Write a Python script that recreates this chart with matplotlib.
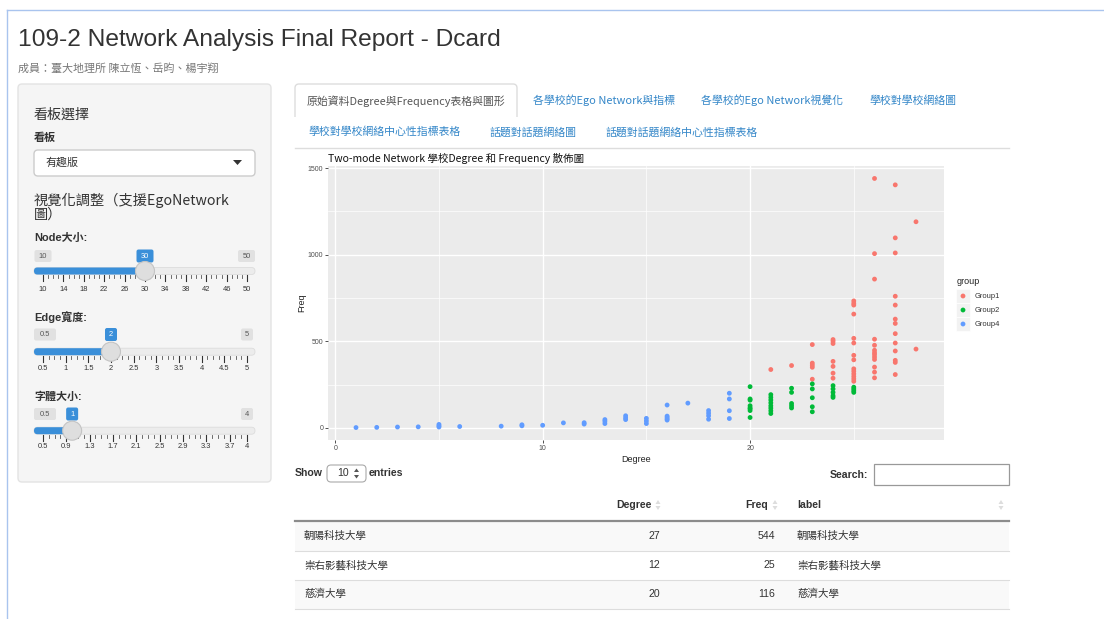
import matplotlib
matplotlib.use("Agg")
import matplotlib.pyplot as plt
from matplotlib.patches import FancyBboxPatch, Rectangle, Circle, Polygon
from matplotlib.ticker import MultipleLocator
import numpy as np

# ---------------- data ----------------
page_title = "109-2 Network Analysis Final Report - Dcard"
page_subtitle = "成員：臺大地理所 陳立恆、岳昀、楊宇翔"

tabs_row1 = ["原始資料Degree與Frequency表格與圖形", "各學校的Ego Network與指標",
             "各學校的Ego Network視覺化", "學校對學校網絡圖"]
tabs_row2 = ["學校對學校網絡中心性指標表格", "話題對話題網絡圖", "話題對話題網絡中心性指標表格"]

board_value = "有趣版"
slider_names = ["Node大小:", "Edge寬度:", "字體大小:"]
slider_min = [10, 0.5, 0.5]
slider_max = [50, 5, 4]
slider_val = [30, 2, 1]
slider_ticks = [
    ["10", "14", "18", "22", "26", "30", "34", "38", "42", "46", "50"],
    ["0.5", "1", "1.5", "2", "2.5", "3", "3.5", "4", "4.5", "5"],
    ["0.5", "0.9", "1.3", "1.7", "2.1", "2.5", "2.9", "3.3", "3.7", "4"],
]

chart_title = "Two-mode Network 學校Degree 和 Frequency 散佈圖"
group_names = ["Group1", "Group2", "Group4"]
group_colors = ["#F8766D", "#00BA38", "#619CFF"]

g1_degree = [21, 22] + [23]*5 + [24]*7 + [25]*14 + [26]*13 + [27]*13 + [28]*2
g1_freq = [337, 360,
           281, 350, 362, 374, 481,
           287, 316, 355, 384, 487, 500, 510,
           269, 283, 297, 312, 327, 341, 393, 419, 490, 517, 657, 709, 719, 733,
           289, 322, 351, 395, 409, 423, 434, 448, 477, 512, 859, 1006, 1440,
           308, 378, 390, 444, 490, 544, 603, 628, 709, 760, 1010, 1097, 1403,
           455, 1190]

g2_degree = [20]*8 + [21]*8 + [22]*5 + [23]*5 + [24]*5 + [25]*4
g2_freq = [60, 100, 110, 116, 128, 160, 167, 238,
           83, 99, 114, 128, 145, 161, 176, 192,
           115, 128, 141, 205, 229,
           93, 122, 174, 225, 254,
           176, 186, 205, 225, 244,
           205, 215, 225, 235]

g4_degree = [1, 2, 3, 4, 5, 5, 5, 6, 8, 9, 9, 10, 11, 12, 12, 13, 13, 13,
             14, 14, 14, 15, 15, 15, 16, 16, 16, 16, 16, 17, 18, 18, 18, 18,
             19, 19, 19, 19]
g4_freq = [2, 3, 5, 6, 5, 12, 20, 8, 10, 12, 18, 15, 29, 22, 30, 25, 38, 48,
           48, 58, 70, 25, 40, 55, 45, 52, 60, 68, 132, 143, 50, 70, 85, 100,
           54, 99, 167, 200]

table_columns = ["", "Degree", "Freq", "label"]
table_names = ["朝陽科技大學", "崇右影藝科技大學", "慈濟大學"]
table_degree = [27, 12, 20]
table_freq = [544, 25, 116]

# ---------------- setup ----------------
W, H = 1104, 619
CJK = ["Noto Sans CJK TC", "DejaVu Sans"]
LAT = ["Liberation Sans", "Noto Sans CJK TC", "DejaVu Sans"]
plt.rcParams["font.family"] = CJK

fig = plt.figure(figsize=(W / 100, H / 100), dpi=100)
bg = fig.add_axes([0, 0, 1, 1])
bg.set_xlim(0, W)
bg.set_ylim(H, 0)
bg.axis("off")


def pt(px):
    return px * 0.72


def txt(x, y, s, size, color="#333333", ha="left", va="center", weight="normal", fam=None, zorder=5):
    bg.text(x, y, s, fontsize=pt(size), color=color, ha=ha, va=va,
            fontweight=weight, family=fam or CJK, zorder=zorder)


def rbox(x0, y0, x1, y1, fc, ec, r=4, lw=1.0, zorder=1):
    bg.add_patch(FancyBboxPatch((x0, y0), x1 - x0, y1 - y0,
                                boxstyle=f"round,pad=0,rounding_size={r}",
                                fc=fc, ec=ec, lw=lw, zorder=zorder))


# outer page border
bg.plot([7, W], [10, 10], color="#a9c4ee", lw=1.0, zorder=2)
bg.plot([7, 7], [10, H], color="#a9c4ee", lw=1.0, zorder=2)

# title
txt(18, 40, page_title, 24.5, color="#333333", fam=LAT)
txt(18, 68, page_subtitle, 11, color="#777777")

# ---------------- sidebar ----------------
rbox(18, 84, 271, 482, "#f5f5f5", "#e3e3e3", r=4)
txt(34, 115, "看板選擇", 14, color="#333333")
txt(34, 138, "看板", 11, weight="bold")
rbox(34, 150, 255, 176, "white", "#cccccc", r=4)
txt(45, 163, board_value, 11, color="#333333")
bg.add_patch(Polygon([[233, 160], [242, 160], [237.5, 165]], closed=True, fc="#333333", ec="none", zorder=3))
txt(34, 200, "視覺化調整（支援EgoNetwork", 14.2, color="#333333")
txt(34, 215, "圖）", 14.2, color="#333333")

slider_label_y = [238, 317, 396.5]
box_y = [256, 334.5, 414]
track_y = [271, 351.7, 430.7]
ticklab_y = [289.3, 368.3, 446.7]
xa, xb = 43.0, 247.0
blue = "#3a8fd9"
for i in range(3):
    txt(34, slider_label_y[i], slider_names[i], 11, weight="bold", fam=LAT)
    lo, hi, v = slider_min[i], slider_max[i], slider_val[i]

    def sx(val, lo=lo, hi=hi):
        return xa + (val - lo) / (hi - lo) * (xb - xa)

    # min / max labels
    for val, s in [(lo, str(slider_ticks[i][0])), (hi, str(slider_ticks[i][-1]))]:
        w = 7 + 5 * len(s)
        cx = sx(val)
        cx = max(cx, 34 + w / 2) if val == lo else min(cx, 255 - w / 2)
        rbox(cx - w / 2, box_y[i] - 6, cx + w / 2, box_y[i] + 6, "#e1e1e1", "none", r=2, zorder=2)
        txt(cx, box_y[i], s, 7.5, color="#555555", ha="center", fam=LAT)
    # value label
    vs = str(v)
    w = 7 + 5 * len(vs)
    hx = sx(v)
    rbox(hx - w / 2, box_y[i] - 6.5, hx + w / 2, box_y[i] + 6.5, blue, "none", r=2, zorder=3)
    txt(hx, box_y[i], vs, 7.5, color="white", ha="center", fam=LAT)
    # track
    rbox(34, track_y[i] - 3.5, 255, track_y[i] + 3.5, "#ececec", "#dcdcdc", r=3.5, lw=0.6, zorder=2)
    rbox(34, track_y[i] - 3.5, hx, track_y[i] + 3.5, blue, "none", r=3.5, zorder=3)
    bg.add_patch(Circle((hx, track_y[i]), 9.5, fc="#dedede", ec="#c4c4c4", lw=0.8, zorder=4))
    # ticks
    labs = slider_ticks[i]
    vals = [float(s) for s in labs]
    for k, (val, s) in enumerate(zip(vals, labs)):
        x = sx(val)
        bg.plot([x, x], [track_y[i] + 4, track_y[i] + 10], color="#333333", lw=0.8, zorder=2)
        txt(x, ticklab_y[i], s, 7.5, color="#333333", ha="center", fam=LAT)
        if k < len(vals) - 1:
            step = (vals[1] - vals[0]) / 4
            m = val + step
            while m < vals[k + 1] - 1e-9:
                xm = sx(m)
                bg.plot([xm, xm], [track_y[i] + 4, track_y[i] + 7], color="#555555", lw=0.6, zorder=2)
                m += step

# ---------------- tabs ----------------
tab_blue = "#3386c8"
bg.add_patch(FancyBboxPatch((295, 84), 222, 40, boxstyle="round,pad=0,rounding_size=4",
                            fc="white", ec="#dddddd", lw=1.0, zorder=2))
bg.add_patch(Rectangle((294, 117), 225, 10, fc="white", ec="none", zorder=3))
txt(307, 101, tabs_row1[0], 10.9, color="#555555")
for x, s in zip([533, 701, 869], tabs_row1[1:]):
    txt(x, 100.5, s, 10.9, color=tab_blue)
for x, s in zip([308, 490, 605], tabs_row2):
    txt(x, 132, s, 10.9, color=tab_blue)
bg.plot([295, 1009], [148, 148], color="#dddddd", lw=1.0, zorder=2)

# ---------------- scatter chart ----------------
ax = fig.add_axes([328 / W, 1 - 440 / H, 616 / W, 274 / H])
ax.set_facecolor("#EBEBEB")
for gx, gy, col in [(g1_degree, g1_freq, group_colors[0]),
                    (g2_degree, g2_freq, group_colors[1]),
                    (g4_degree, g4_freq, group_colors[2])]:
    ax.scatter(gx, gy, s=12, color=col, edgecolors="none", zorder=3)
ax.margins(0.05)
ax.xaxis.set_major_locator(MultipleLocator(10))
ax.xaxis.set_minor_locator(MultipleLocator(5))
ax.yaxis.set_major_locator(MultipleLocator(500))
ax.yaxis.set_minor_locator(MultipleLocator(250))
ax.grid(which="major", color="white", lw=1.0, zorder=0)
ax.grid(which="minor", color="white", lw=0.5, zorder=0)
ax.set_axisbelow(True)
for sp in ax.spines.values():
    sp.set_visible(False)
ax.tick_params(which="major", length=2, width=0.6, color="#333333", labelsize=pt(7),
               labelcolor="#4D4D4D", pad=1.5)
ax.tick_params(which="minor", length=0)
for lab in ax.get_xticklabels() + ax.get_yticklabels():
    lab.set_family(["Liberation Sans"])
ax.set_xlabel("Degree", fontsize=pt(9), color="#222222", labelpad=2, family=LAT)
ax.set_ylabel("Freq", fontsize=pt(9), color="#222222", labelpad=1, family=LAT)
ax.set_title(chart_title, loc="left", fontsize=pt(10.5), color="#111111", pad=3)

# legend (ggplot style)
txt(957, 282, "group", 9, color="#222222", fam=LAT)
for k, (name, col) in enumerate(zip(group_names, group_colors)):
    yk = 296 + 14 * k
    bg.add_patch(Rectangle((956, yk - 7), 14, 14, fc="#f2f2f2", ec="white", lw=0.5, zorder=2))
    bg.scatter([963], [yk], s=12, color=col, edgecolors="none", zorder=3)
    txt(975, yk, name, 7.5, color="#333333", fam=LAT)

# ---------------- table ----------------
txt(295, 473.5, "Show", 10.5, color="#333333", weight="bold", fam=LAT)
rbox(327, 465, 366, 482, "white", "#aaaaaa", r=4, lw=0.8)
txt(337, 473.5, "10", 10.5, color="#333333", fam=LAT)
bg.add_patch(Polygon([[354, 472], [359, 472], [356.5, 468.5]], closed=True, fc="#555555", ec="none", zorder=3))
bg.add_patch(Polygon([[354, 475], [359, 475], [356.5, 478.5]], closed=True, fc="#555555", ec="none", zorder=3))
txt(369, 473.5, "entries", 10.5, color="#333333", weight="bold", fam=LAT)
txt(868, 474.5, "Search:", 10.5, color="#333333", weight="bold", ha="right", fam=LAT)
bg.add_patch(Rectangle((874, 464), 135, 21, fc="white", ec="#999999", lw=0.9, zorder=2))

hdr_y = 505
txt(652, hdr_y, table_columns[1], 10.5, weight="bold", ha="right", fam=LAT)
txt(768, hdr_y, table_columns[2], 10.5, weight="bold", ha="right", fam=LAT)
txt(797, hdr_y, table_columns[3], 10.5, weight="bold", ha="left", fam=LAT)
for ax_x in [658, 775, 1001]:
    bg.add_patch(Polygon([[ax_x - 2.5, hdr_y - 1], [ax_x + 2.5, hdr_y - 1], [ax_x, hdr_y - 5]],
                         closed=True, fc="#dddddd", ec="none", zorder=3))
    bg.add_patch(Polygon([[ax_x - 2.5, hdr_y + 1], [ax_x + 2.5, hdr_y + 1], [ax_x, hdr_y + 5]],
                         closed=True, fc="#dddddd", ec="none", zorder=3))
bg.plot([295, 1009], [520.5, 520.5], color="#8c8c8c", lw=1.6, zorder=3)

row_h = 29
for r in range(4):
    y0 = 521.5 + r * row_h
    if r % 2 == 0:
        bg.add_patch(Rectangle((295, y0), 714, row_h, fc="#f9f9f9", ec="none", zorder=1))
    bg.plot([295, 1009], [y0 + row_h, y0 + row_h], color="#dddddd", lw=0.8, zorder=2)
for r, (nm, d, f) in enumerate(zip(table_names, table_degree, table_freq)):
    yc = 536 + r * row_h
    txt(304, yc, nm, 10.5, color="#333333")
    txt(660, yc, str(d), 10.5, color="#333333", ha="right", fam=LAT)
    txt(775, yc, str(f), 10.5, color="#333333", ha="right", fam=LAT)
    txt(797, yc, nm, 10.5, color="#333333")

fig.savefig("out.png", dpi=100)
